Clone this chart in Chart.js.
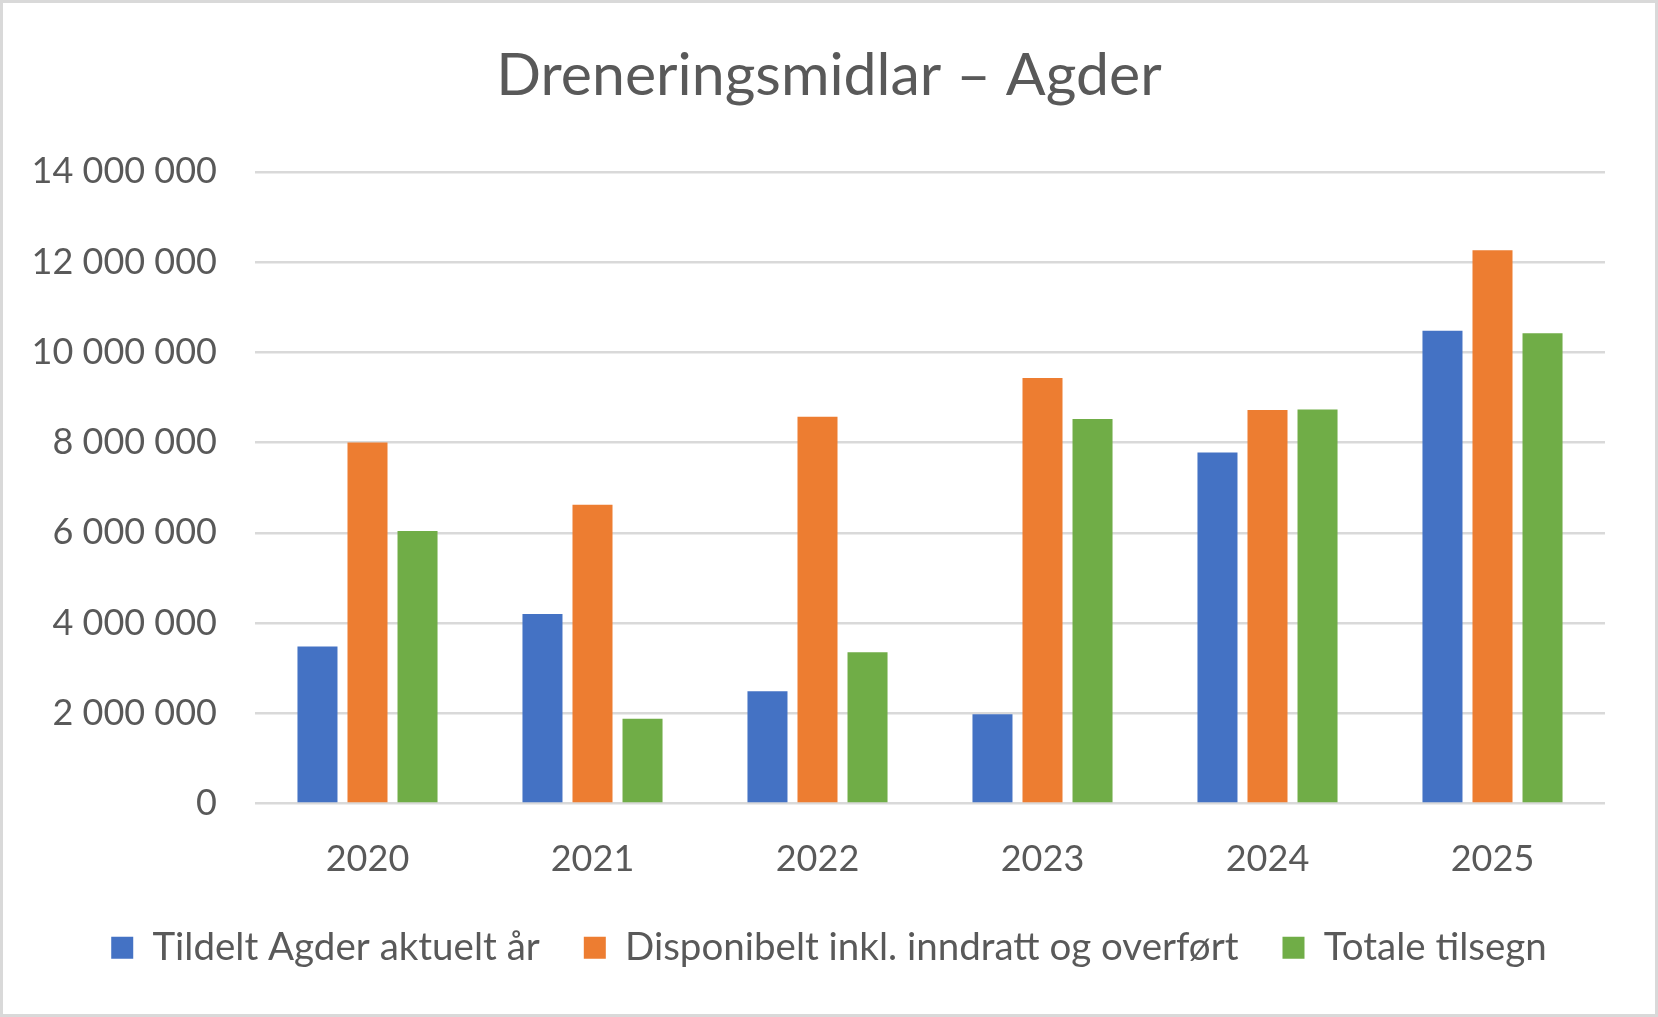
<!DOCTYPE html>
<html>
<head>
<meta charset="utf-8">
<script src="https://cdn.jsdelivr.net/npm/chart.js@4"></script>
<style>
  html, body { margin: 0; padding: 0; background: #ffffff; }
  #wrap { width: 1658px; height: 1017px; }
</style>
</head>
<body>
<div id="wrap"><canvas id="c" width="1658" height="1017"></canvas></div>
<script>
const categories = ['2020', '2021', '2022', '2023', '2024', '2025'];
const seriesNames = ['Tildelt Agder aktuelt år', 'Disponibelt inkl. inndratt og overført', 'Totale tilsegn'];
const tildelt = [3480000, 4200000, 2490000, 1980000, 7780000, 10480000];
const disponibelt = [8000000, 6620000, 8570000, 9430000, 8720000, 12260000];
const tilsegn = [6040000, 1880000, 3350000, 8520000, 8730000, 10420000];
const yTicks = [0, 2000000, 4000000, 6000000, 8000000, 10000000, 12000000, 14000000];
const titleText = 'Dreneringsmidlar – Agder';

const colors = ['#4472C4', '#ED7D31', '#70AD47'];
const textColor = '#595959';
const fontFam = 'Lato, "Open Sans", sans-serif';

function fmt(v) {
  return String(v).replace(/\B(?=(\d{3})+(?!\d))/g, ' ');
}

const borderPlugin = {
  id: 'outerBorder',
  afterDraw(chart) {
    const ctx = chart.ctx;
    ctx.save();
    ctx.strokeStyle = '#D9D9D9';
    ctx.lineWidth = 3;
    ctx.strokeRect(1.5, 1.5, chart.width - 3, chart.height - 3);
    ctx.restore();
  }
};

const bgPlugin = {
  id: 'bg',
  beforeDraw(chart) {
    const ctx = chart.ctx;
    ctx.save();
    ctx.fillStyle = '#ffffff';
    ctx.fillRect(0, 0, chart.width, chart.height);
    ctx.restore();
  }
};

new Chart(document.getElementById('c'), {
  type: 'bar',
  data: {
    labels: categories,
    datasets: [
      { label: seriesNames[0], data: tildelt, backgroundColor: colors[0] },
      { label: seriesNames[1], data: disponibelt, backgroundColor: colors[1] },
      { label: seriesNames[2], data: tilsegn, backgroundColor: colors[2] }
    ]
  },
  options: {
    responsive: false,
    animation: false,
    devicePixelRatio: 1,
    layout: { padding: { left: 20, right: 20, top: 0, bottom: 40 } },
    datasets: { bar: { categoryPercentage: 0.667, barPercentage: 0.8 } },
    plugins: {
      title: {
        display: true,
        text: titleText,
        color: textColor,
        font: { family: fontFam, size: 59, weight: 'normal', lineHeight: 1.2 },
        padding: { top: 41, bottom: 60 }
      },
      legend: {
        position: 'bottom',
        labels: {
          color: textColor,
          font: { family: fontFam, size: 38.5 },
          boxWidth: 22,
          boxHeight: 22,
          padding: 44
        }
      },
      tooltip: { enabled: false }
    },
    scales: {
      x: {
        grid: { display: false },
        border: { display: false },
        ticks: { color: textColor, font: { family: fontFam, size: 36 }, padding: 26 },
        afterFit(s) { s.height = 81; }
      },
      y: {
        min: 0,
        max: 14000000,
        afterBuildTicks(s) { s.ticks = yTicks.map(v => ({ value: v })); },
        grid: { color: '#D9D9D9', lineWidth: 2.5, drawTicks: false },
        border: { display: false },
        ticks: {
          color: textColor,
          font: { family: fontFam, size: 36 },
          padding: 38,
          callback: (v) => fmt(v)
        },
        afterFit(s) { s.width = 235; }
      },
      yRight: {
        position: 'right',
        display: true,
        min: 0,
        max: 14000000,
        grid: { display: false },
        border: { display: false },
        ticks: { display: false },
        afterFit(s) { s.width = 33; }
      }
    }
  },
  plugins: [bgPlugin, borderPlugin]
});
</script>
</body>
</html>
